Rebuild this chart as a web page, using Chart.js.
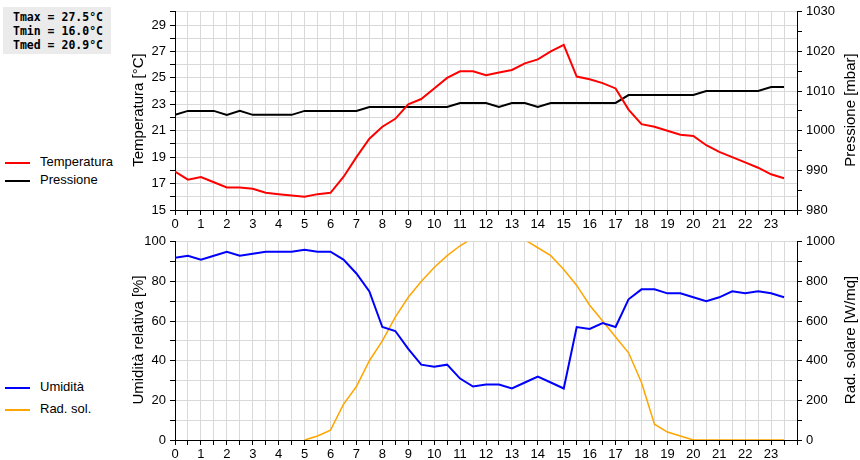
<!DOCTYPE html>
<html><head><meta charset="utf-8">
<script src="https://cdn.jsdelivr.net/npm/chart.js@4"></script>
<style>
body{margin:0;background:#fff;width:860px;height:460px;overflow:hidden;font-family:"Liberation Sans",Arial,sans-serif}
.c{position:absolute;left:0;width:860px;height:230px}
#box{position:absolute;left:3px;top:7px;width:108px;height:47px;background:#ebebeb;font:bold 11.5px "DejaVu Sans Mono",monospace;line-height:14px;padding:3px 0 0 10px;box-sizing:border-box;color:#000}
.lg{position:absolute;left:5px;font-size:13px;color:#000}
.lg span{display:inline-block;width:25px;height:2px;vertical-align:middle;margin-right:10px}
.t{position:absolute;width:240px;text-align:center;font-size:15px;color:#000;transform:translate(-50%,-50%) rotate(-90deg);white-space:nowrap;z-index:2}
</style></head><body>
<div id="box">Tmax = 27.5°C<br>Tmin = 16.0°C<br>Tmed = 20.9°C</div>
<div class="lg" style="top:154px"><span style="background:#f00"></span>Temperatura</div>
<div class="lg" style="top:172px"><span style="background:#000"></span>Pressione</div>
<div class="lg" style="top:379px"><span style="background:#00f"></span>Umidità</div>
<div class="lg" style="top:401px"><span style="background:#ffa500"></span>Rad. sol.</div>
<div class="c" style="top:0"><canvas id="c1"></canvas></div>
<div class="c" style="top:230px"><canvas id="c2"></canvas></div>
<div class="t" style="left:137px;top:110px">Temperatura [°C]</div>
<div class="t" style="left:849px;top:110px">Pressione [mbar]</div>
<div class="t" style="left:137px;top:340px">Umidità relativa [%]</div>
<div class="t" style="left:849px;top:340px">Rad. solare [W/mq]</div>
<script>
const hours=[0,0.5,1,1.5,2,2.5,3,3.5,4,4.5,5,5.5,6,6.5,7,7.5,8,8.5,9,9.5,10,10.5,11,11.5,12,12.5,13,13.5,14,14.5,15,15.5,16,16.5,17,17.5,18,18.5,19,19.5,20,20.5,21,21.5,22,22.5,23,23.5];
const temperatura=[17.9,17.3,17.5,17.1,16.7,16.7,16.6,16.3,16.2,16.1,16.0,16.2,16.3,17.5,19.0,20.4,21.3,21.9,23.0,23.4,24.2,25.0,25.5,25.5,25.2,25.4,25.6,26.1,26.4,27.0,27.5,25.1,24.9,24.6,24.2,22.6,21.5,21.3,21.0,20.7,20.6,19.9,19.4,19.0,18.6,18.2,17.7,17.4];
const pressione=[1004,1005,1005,1005,1004,1005,1004,1004,1004,1004,1005,1005,1005,1005,1005,1006,1006,1006,1006,1006,1006,1006,1007,1007,1007,1006,1007,1007,1006,1007,1007,1007,1007,1007,1007,1009,1009,1009,1009,1009,1009,1010,1010,1010,1010,1010,1011,1011];
const umidita=[92,93,91,93,95,93,94,95,95,95,96,95,95,91,84,75,57,55,46,38,37,38,31,27,28,28,26,29,32,29,26,57,56,59,57,71,76,76,74,74,72,70,72,75,74,75,74,72];
const radiazione=[null,null,null,null,null,null,null,null,null,null,0,20,50,180,270,400,500,620,720,800,870,930,980,1020,1050,1060,1040,1010,970,930,860,780,680,600,520,440,290,80,40,20,0,0,0,0,0,0,0,0];
const pts=a=>hours.map((h,i)=>({x:h,y:a[i]}));
const F={family:"Liberation Sans",size:13};
const grid='#d9d9d9';
function xAxis(){return {type:'linear',min:0,max:24,border:{color:'#000'},
 ticks:{stepSize:0.5,autoSkip:false,maxRotation:0,color:'#000',font:F,padding:2,callback:v=>(Number.isInteger(v)&&v<24)?String(v):''},
 grid:{color:grid,tickColor:'#000',tickLength:5,drawTicks:true},afterFit:s=>{s.height=20;}};}
function yAxis(pos,min,max,step,lab,drawGrid){return {position:pos,min,max,border:{color:'#000'},
 ticks:{stepSize:step,autoSkip:false,color:'#000',font:F,padding:4,callback:lab},
 grid:{display:true,drawOnChartArea:drawGrid,color:grid,tickColor:'#000',tickLength:5},
 afterFit:s=>{s.width=pos==='left'?175:63;}};}
const common={responsive:true,maintainAspectRatio:false,animation:false,layout:{padding:{top:10}},
 plugins:{legend:{display:false},tooltip:{enabled:false}},elements:{point:{radius:0},line:{tension:0}}};
new Chart(document.getElementById('c1'),{type:'line',data:{datasets:[
 {data:pts(temperatura),borderColor:'#f00',borderWidth:2,yAxisID:'y'},
 {data:pts(pressione),borderColor:'#000',borderWidth:2,yAxisID:'y2'}]},
 options:{...common,scales:{x:xAxis(),
 y:yAxis('left',15,30,1,v=>(v%2===1&&v<30)?String(v):'',true),
 y2:yAxis('right',980,1030,5,v=>v%10===0?String(v):'',false)}}});
new Chart(document.getElementById('c2'),{type:'line',data:{datasets:[
 {data:pts(umidita),borderColor:'#00f',borderWidth:2,yAxisID:'y'},
 {data:pts(radiazione),borderColor:'#ffa500',borderWidth:1.5,yAxisID:'y2'}]},
 options:{...common,scales:{x:xAxis(),
 y:yAxis('left',0,100,10,v=>v%20===0?String(v):'',true),
 y2:yAxis('right',0,1000,100,v=>v%200===0?String(v):'',false)}}});
</script></body></html>
